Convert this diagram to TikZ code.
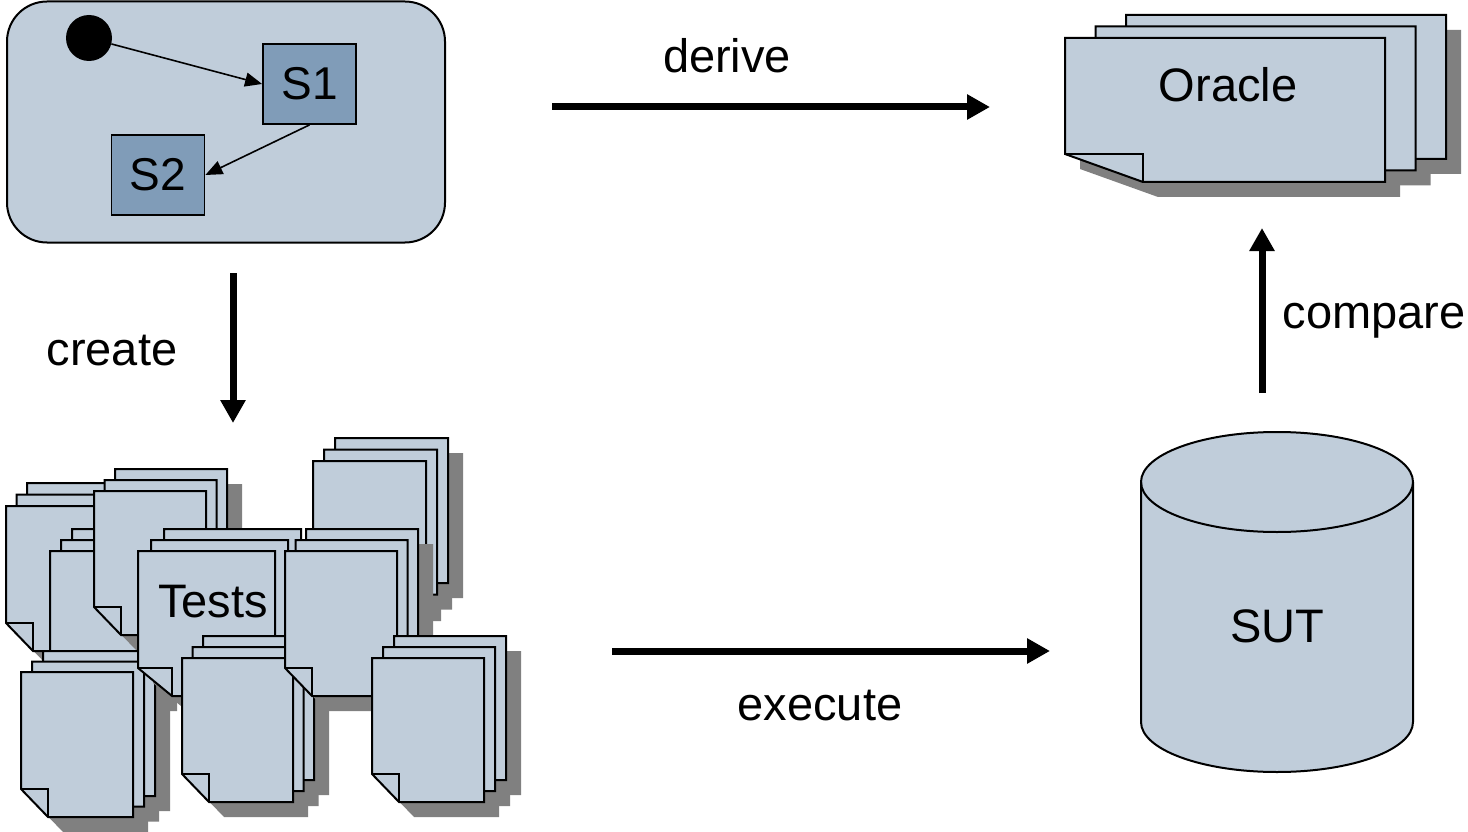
\documentclass[tikz,border=0pt]{standalone}
\usepackage{fontspec}
\setmainfont{Liberation Sans}
\usetikzlibrary{arrows.meta}
\definecolor{lightfill}{RGB}{192,205,218}
\definecolor{darkfill}{RGB}{128,156,184}
\definecolor{shadowc}{RGB}{128,128,128}
\tikzset{
  pagest/.style={fill=lightfill, draw=black, line width=2pt, line join=miter},
  pageline/.style={draw=black, line width=2pt},
  shadowst/.style={fill=shadowc},
  lbl/.style={font=\fontsize{47}{56}\selectfont, inner sep=0pt},
  bigarrow/.style={line width=7pt, -{Triangle[length=23pt,width=24pt]}},
  smallarrow/.style={line width=1.6pt, -{Triangle[length=17pt,width=14pt]}},
  statebox/.style={draw=black, fill=darkfill, line width=1.8pt, inner sep=0pt,
    minimum width=93pt, minimum height=80pt, font=\fontsize{46}{55}\selectfont},
}
\newcommand\docshadow[5]{%
  \fill[shadowst] ({#1+15},{#2+15}) -- ({#1+#3+15},{#2+15}) -- ({#1+#3+15},{#2+#4+15})
    -- ({#1+#5+15},{#2+#4+15}) -- ({#1+15},{#2+#4-28+15}) -- cycle;}
\newcommand\docpage[5]{%
  \filldraw[pagest] (#1,#2) -- ({#1+#3},#2) -- ({#1+#3},{#2+#4}) -- ({#1+#5},{#2+#4})
    -- (#1,{#2+#4-28}) -- cycle;
  \draw[pageline] (#1,{#2+#4-28}) -- ({#1+#5},{#2+#4-28}) -- ({#1+#5},{#2+#4});}
\newcommand\docstack[7]{%
  \pgfmathsetmacro\sxa{#1+#5}\pgfmathsetmacro\sya{#2-#6}%
  \pgfmathsetmacro\sxb{#1+2*#5}\pgfmathsetmacro\syb{#2-2*#6}%
  \docshadow{\sxb}{\syb}{#3}{#4}{#7}\docshadow{\sxa}{\sya}{#3}{#4}{#7}\docshadow{#1}{#2}{#3}{#4}{#7}%
  \docpage{\sxb}{\syb}{#3}{#4}{#7}\docpage{\sxa}{\sya}{#3}{#4}{#7}\docpage{#1}{#2}{#3}{#4}{#7}}
\begin{document}
\begin{tikzpicture}[x=1pt,y=-1pt]
\useasboundingbox (0,0) rectangle (1468,832);
% state machine
\node[draw=black, fill=lightfill, line width=2pt, rounded corners=40pt, inner sep=0pt,
  minimum width=438pt, minimum height=241pt] (sm) at (226,122) {};
\node[circle, fill=black, inner sep=0pt, minimum size=46pt] (init) at (89,38) {};
\node[statebox] (s1) at (309.5,84) {S1};
\node[statebox] (s2) at (158,175) {S2};
\draw[smallarrow] (init) -- (s1.west);
\draw[smallarrow] (s1.south) -- (s2.east);
% oracle
\docstack{1065}{38}{320}{144}{30.5}{11.5}{78}
\node[lbl, anchor=base] (oracle) at (1228,102) {Oracle};
% tests
\docstack{6}{506}{112}{145}{10.5}{11.5}{27}
\docstack{50}{551}{112}{145}{11}{11}{27}
\docstack{94}{491}{112}{144}{10.5}{11}{27}
\docstack{21}{672}{112}{145}{11}{10.5}{27}
\docstack{138}{551}{137}{145}{13}{11}{34}
\node[lbl, anchor=base] (tests) at (213,617) {Tests};
\docstack{313}{461}{113}{145}{11}{11.5}{27}
\docstack{182}{658}{111}{144}{10.5}{11}{27}
\docstack{285}{551}{112}{145}{10.5}{11}{27}
\docstack{372}{658}{112}{144}{11}{11}{27}
% SUT cylinder
\filldraw[fill=lightfill, draw=black, line width=2pt]
  (1141,482) -- (1141,722) arc[start angle=180, end angle=360, x radius=136pt, y radius=50pt]
  -- (1413,482) arc[start angle=0, end angle=180, x radius=136pt, y radius=50pt] -- cycle;
\draw[line width=2pt] (1141,482) arc[start angle=180, end angle=360, x radius=136pt, y radius=50pt];
\node[lbl, anchor=base] (sut) at (1277,642) {SUT};
% arrows
\coordinate (deriveA) at (552,107);
\coordinate (deriveB) at (990,107);
\coordinate (createA) at (233,273);
\coordinate (createB) at (233,423);
\coordinate (execA) at (612,651);
\coordinate (execB) at (1050,651);
\coordinate (compA) at (1262,393);
\coordinate (compB) at (1262,228);
\draw[bigarrow] (deriveA) -- (deriveB);
\draw[bigarrow] (createA) -- (createB);
\draw[bigarrow] (execA) -- (execB);
\draw[bigarrow] (compA) -- (compB);
\node[lbl, anchor=base] (lderive) at (727,73) {derive};
\node[lbl, anchor=base] (lcreate) at (112,365) {create};
\node[lbl, anchor=base] (lexec) at (820,720) {execute};
\node[lbl, anchor=base] (lcomp) at (1374,328) {compare};
\end{tikzpicture}
\end{document}
